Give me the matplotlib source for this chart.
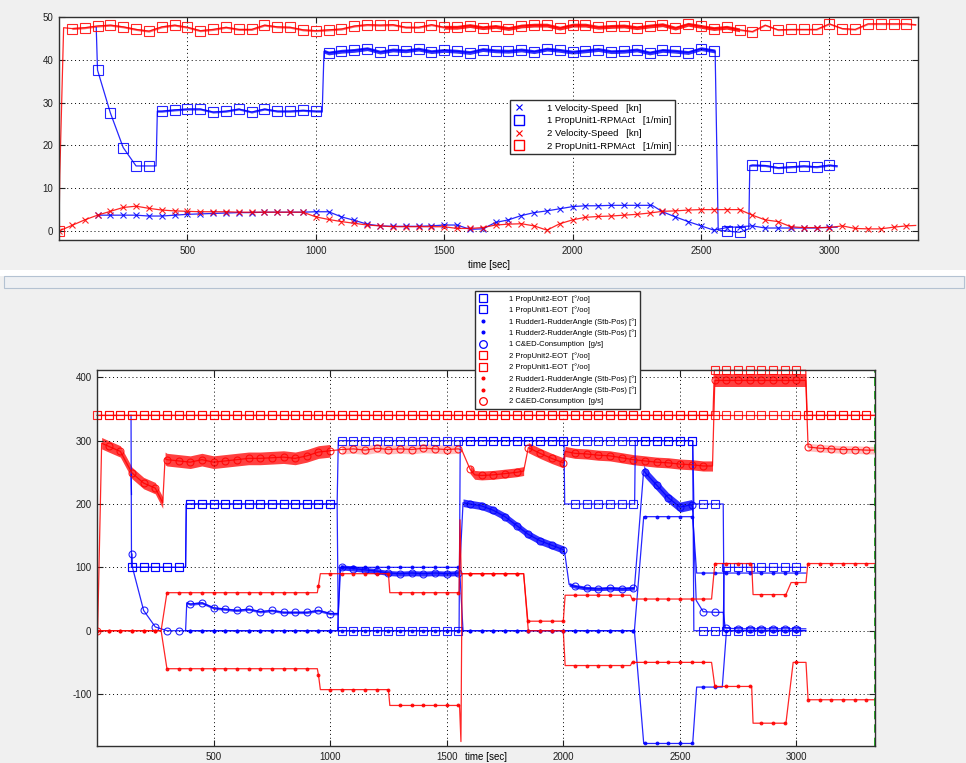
import numpy as np
import matplotlib.pyplot as plt
from matplotlib.lines import Line2D
from matplotlib.patches import Rectangle

plt.rcParams['font.family'] = ['Liberation Sans', 'DejaVu Sans']
plt.rcParams['axes.unicode_minus'] = False

nan = np.nan
BLUE, RED = '#0000ff', '#ff0000'

# sample grid of the logger: one marker every 50 s, 0..3300 (67 samples)
T = np.arange(0, 3350, 50)

# ---------------- top plot: speed / rpm ----------------
spd1 = ([nan] * 3
        + [3.7, 3.7, 3.7, 3.7, 3.5, 3.5, 3.7, 3.9, 4.0, 4.1, 4.2, 4.3, 4.3, 4.4, 4.4, 4.4, 4.4, 4.5]
        + [4.5, 3.3, 2.5, 1.6, 1.2, 1.1, 1.1, 1.1, 1.2, 1.4]
        + [1.4, 0.4, 0.5, 2.0, 2.6, 3.6, 4.3, 4.7, 5.2, 5.7]
        + [5.9, 5.9, 6.0, 6.0, 6.0, 6.0, 4.5, 3.3, 2.2, 1.2]
        + [0.2, 0.8, 1.0, 1.2, 0.7, 0.7, 0.7, 0.7, 0.7, 0.9]
        + [nan] * 6)
spd1_c = [(2310, 6.0), (3030, 0.9)]

rpm1 = ([nan] * 3
        + [37.6, 27.6, 19.5, 15.2, 15.2]
        + [28.0, 28.3, 28.5, 28.5, 27.8, 28.0, 28.5, 27.8, 28.5, 28.0, 28.0, 28.2, 28.0]
        + [41.6, 42.0, 42.2, 42.6, 41.8, 42.3, 42.1, 42.5, 41.9, 42.2, 42.0, 41.7, 42.4, 42.1, 42.0, 42.3,
           41.9, 42.5, 42.2, 41.8, 42.1, 42.4, 41.9, 42.0, 42.3, 41.6, 42.2, 42.0, 41.7, 42.6, 42.1]
        + [0.0, -0.3]
        + [15.4, 15.3, 14.8, 15.0, 15.2, 15.0, 15.4]
        + [nan] * 6)
rpm1_c = [(145, 47.5), (378, 15.2), (383, 28.0), (1025, 28.0), (1032, 42.0),
          (2555, 42.0), (2567, 0.2), (2686, 0.5), (2690, 15.3), (3030, 15.2)]
rpm1_noise = [(383, 1025, 0.25, 0.7), (1032, 2555, 0.45, 0.8), (2690, 3030, 0.25, 0.7)]

spd2 = ([0.0, 1.3, 2.6, 3.7, 4.6, 5.5, 5.8, 5.3, 4.9, 4.7]
        + [4.6, 4.5, 4.5, 4.5, 4.4, 4.4, 4.4, 4.4, 4.4, 4.4]
        + [3.3, 2.7, 2.2, 1.8, 1.4, 1.2, 1.0, 1.0, 1.0, 1.0]
        + [1.0, 0.6, 0.6, 0.8, 1.4, 1.6, 1.7, 1.2, 0.2, 1.7]
        + [2.6, 3.2, 3.4, 3.5, 3.7, 3.9, 4.2, 4.6, 4.7, 4.9]
        + [5.0, 5.0, 5.0, 5.0, 3.7, 2.6, 2.2, 1.0, 0.8, 0.8]
        + [0.8, 1.2, 0.6, 0.5, 0.5, 0.9, 1.2])
spd2_c = [(3336, 1.3)]

rpm2 = ([0.0]
        + [47.3, 47.5, 47.9, 48.1, 47.7, 47.1, 46.7, 47.7, 48.1, 47.6, 46.8, 47.1, 47.6, 47.1, 47.1,
           48.1, 47.7, 47.6, 47.0, 46.8, 47.0]
        + [47.2, 47.9, 48.2, 48.1, 48.2, 47.6, 47.6, 48.2, 47.6, 47.6]
        + [48.0, 47.5, 47.8, 47.3, 47.9, 48.1, 48.1, 47.4, 48.1, 48.1]
        + [47.6, 47.8, 47.9, 47.5, 47.9, 48.2, 47.4, 48.3, 47.8, 47.3]
        + [47.6, 47.0, 46.6, 48.1, 47.0, 47.1, 47.1, 47.1, 48.4, 47.3]
        + [47.1, 48.4, 48.4, 48.4, 48.4])
rpm2_c = [(3, 13.0), (18, 47.5), (3336, 48.2)]
rpm2_noise = [(20, 1500, 0.25, 0.6), (1500, 2650, 0.45, 0.85), (2650, 3336, 0.2, 0.5)]

top_labels = ['1 Velocity-Speed   [kn]', '1 PropUnit1-RPMAct   [1/min]',
              '2 Velocity-Speed   [kn]', '2 PropUnit1-RPMAct   [1/min]']

# ---------------- bottom plot: EOT / rudder / consumption ----------------
eot2_1 = [nan] * 3 + [100] * 5 + [200] * 13 + [300] * 31 + [0] * 2 + [100] * 7 + [nan] * 6
eot2_1_c = [(146, 340), (148, 100), (380, 100), (383, 200), (1030, 200), (1035, 300),
            (2555, 300), (2560, 0), (2686, 0), (2690, 100), (3040, 100)]

eot1_1 = ([nan] * 3 + [100] * 5 + [200] * 13 + [0] * 11 + [300] * 9 + [200] * 6
          + [300] * 5 + [200] * 2 + [0] * 7 + [nan] * 6)
eot1_1_c = [(146, 100), (380, 100), (383, 200), (1030, 200), (1035, 0), (1553, 0), (1558, 300),
            (2003, 300), (2006, 200), (2306, 200), (2309, 300), (2555, 300), (2560, 200),
            (2686, 200), (2690, 0), (3040, 0)]

rud1_1 = [nan] * 8 + [0] * 13 + [100] * 11 + [0] * 15 + [180] * 5 + [91] * 9 + [nan] * 6
rud1_1_c = [(146, 246), (148, 215), (149, nan), (380, 0), (1032, 0), (1042, 100), (1555, 100),
            (1570, 0), (2305, 0), (2345, 180), (2555, 180), (2572, 91), (3040, 91)]

rud2_1 = [nan] * 8 + [0] * 39 + [-178] * 5 + [-89] * 2 + [0] * 7 + [nan] * 6
rud2_1_c = [(380, 0), (2305, 0), (2345, -178), (2555, -178), (2572, -89), (2682, -89), (3040, 0)]

fuel_1 = ([nan] * 3
          + [121, 32, 6, 0, 0]
          + [42, 44, 36, 34, 32, 34, 30, 32, 29, 29, 29, 32, 27]
          + [100, 98, 96, 94, 91, 90, 91, 90, 91, 90, 91]
          + [200, 197, 190, 180, 166, 152, 142, 135, 128]
          + [70, 67, 66, 67, 66, 67]
          + [250, 230, 210, 195, 199]
          + [30, 29]
          + [4, 3, 3, 3, 3, 3, 3]
          + [nan] * 6)
fuel_1_c = [(152, 100), (380, 0), (385, 44), (1035, 27), (1045, 100), (1555, 91), (1570, 202),
            (2005, 126), (2025, 73), (2305, 67), (2345, 254), (2555, 195), (2570, 48),
            (2686, 29), (2695, 4), (3040, 3)]
fuel_1_noise = [(385, 1035, 2, 0.7), (1045, 1555, 4, 0.8), (1570, 2005, 6, 0.8),
                (2025, 2305, 3, 0.8), (2345, 2555, 8, 0.8)]

eot2_2 = [340] * 67
eot2_2_c = [(3336, 340)]
eot1_2 = [340] * 53 + [411] * 8 + [340] * 6
eot1_2_c = [(2642, 340), (2648, 411), (3040, 411), (3046, 340), (3336, 340)]

rud1_2 = ([0] * 6 + [60] * 13 + [71] + [90] * 6 + [60] * 6 + [90] * 5 + [15] * 3 + [15]
          + [56] * 5 + [50] * 7 + [106] + [106] * 3 + [57] * 3 + [76] + [106] * 6)
rud1_2_c = [(275, 0), (945, 60), (958, 90), (1256, 60), (1553, 60), (1557, 175), (1562, 90),
            (1830, 90), (1848, 15), (2008, 56), (2288, 56), (2295, 50), (2636, 50), (2655, 106),
            (2808, 106), (2814, 57), (2955, 57), (2977, 76), (3041, 76), (3049, 106), (3336, 106)]

rud2_2 = ([0] * 6 + [-60] * 13 + [-70] + [-93] * 6 + [-118] * 6 + [90] * 5 + [0] * 3 + [0]
          + [-55] * 5 + [-50] * 7 + [-88] + [-88] * 3 + [-146] * 3 + [-50] + [-109] * 6)
rud2_2_c = [(275, 0), (945, -60), (958, -93), (1256, -118), (1555, -118), (1561, -175), (1566, 90),
            (1830, 90), (1995, 0), (2008, -55), (2288, -55), (2295, -50), (2636, -50), (2655, -88),
            (2808, -88), (2814, -146), (2955, -146), (2986, -50), (3041, -50), (3051, -109), (3336, -109)]

fuel_2 = ([0, 291, 283, 249, 233, 225]
          + [270, 268, 266, 270, 266, 268, 270, 272, 272, 273, 274, 272, 276, 282, 284]
          + [286, 287, 285, 288, 286, 287, 286, 288, 287, 286, 287]
          + [255, 245, 246, 248, 250]
          + [289, 280, 272, 265]
          + [280, 279, 277, 276, 273, 270, 268, 266, 265, 263, 262, 260]
          + [395] * 8
          + [290, 288, 287, 286, 286, 285])
fuel_2_c = [(3, 5), (20, 296), (282, 202), (292, 272), (1565, 285), (1620, 246), (1830, 252),
            (2008, 283), (2640, 260), (3040, 395), (3336, 285)]
# (start, end, half width, opacity) of the sensor noise band
fuel_2_noise = [(20, 282, 9, 0.75), (292, 1030, 10, 0.75), (1030, 1560, 7, 0.25), (1570, 1830, 7, 0.75),
                (1850, 2640, 8, 0.75), (2650, 3040, 10, 0.75), (3050, 3336, 6, 0.25)]

cursor_t = 3335

bot_labels = ['1 PropUnit2-EOT  [°/oo]', '1 PropUnit1-EOT  [°/oo]',
              '1 Rudder1-RudderAngle (Stb-Pos) [°]', '1 Rudder2-RudderAngle (Stb-Pos) [°]',
              '1 C&ED-Consumption  [g/s]',
              '2 PropUnit2-EOT  [°/oo]', '2 PropUnit1-EOT  [°/oo]',
              '2 Rudder1-RudderAngle (Stb-Pos) [°]', '2 Rudder2-RudderAngle (Stb-Pos) [°]',
              '2 C&ED-Consumption  [g/s]']


def merge(grid, corners):
    pts = [(t, v, True) for t, v in zip(T, grid) if not np.isnan(v)]
    pts += [(t, v, False) for t, v in corners]
    pts.sort(key=lambda p: p[0])
    return (np.array([p[0] for p in pts], float), np.array([p[1] for p in pts], float),
            [p[2] for p in pts])


def draw(ax, grid, corners, color, marker, ms, noise=(), alpha=0.85, **kw):
    t, v, mk = merge(grid, corners)
    for t0, t1, hw, a in noise:
        m = (t >= t0) & (t <= t1)
        ax.fill_between(t[m], v[m] - hw, v[m] + hw, color=color, alpha=a, lw=0)
    filled = marker == '.'
    ax.plot(t, v, color=color, lw=0.9, alpha=alpha, marker=marker, ms=ms, markevery=mk,
            mfc=color if filled else 'none', mec=color, mew=0.8, **kw)


def style(ax, xlim, ylim, yticks):
    ax.set_xlim(*xlim)
    ax.set_ylim(*ylim)
    ax.set_xticks([500, 1000, 1500, 2000, 2500, 3000])
    ax.set_yticks(yticks)
    ax.grid(True, color='black', ls=(0, (1, 3)), lw=0.7)
    ax.tick_params(direction='in', top=True, right=True, length=4, width=0.8,
                   labelsize=7, pad=4, colors='#202020')
    for s in ax.spines.values():
        s.set_color('#303030')
        s.set_linewidth(1.0)


fig = plt.figure(figsize=(9.66, 7.63), dpi=100)
fig.patch.set_facecolor('#f0f0f0')

# separator strip between the two figure windows
fig.patches.append(Rectangle((0, 1 - 276 / 763), 1, 6 / 763, transform=fig.transFigure,
                             facecolor='white', edgecolor='none'))
fig.patches.append(Rectangle((0.004, 1 - 288 / 763), 0.994, 12 / 763, transform=fig.transFigure,
                             facecolor='#eef0f3', edgecolor='#b4c2d2', lw=0.8))

# ---- top
ax1 = fig.add_axes([59 / 966, 1 - 240 / 763, 859 / 966, 223 / 763])
draw(ax1, spd1, spd1_c, BLUE, 'x', 4)
draw(ax1, rpm1, rpm1_c, BLUE, 's', 7, noise=rpm1_noise)
draw(ax1, spd2, spd2_c, RED, 'x', 4)
draw(ax1, rpm2, rpm2_c, RED, 's', 7, noise=rpm2_noise)
style(ax1, (0, 3345), (-2.1, 50), [0, 10, 20, 30, 40, 50])
ax1.set_xlabel('time [sec]', fontsize=7, labelpad=3)

h1 = [Line2D([], [], ls='none', marker='x', color=BLUE, ms=4, mew=0.8),
      Line2D([], [], ls='none', marker='s', mfc='none', mec=BLUE, ms=7, mew=1.0),
      Line2D([], [], ls='none', marker='x', color=RED, ms=4, mew=0.8),
      Line2D([], [], ls='none', marker='s', mfc='none', mec=RED, ms=7, mew=1.0)]
ax1.legend(h1, top_labels, loc='upper left', bbox_to_anchor=(510 / 966, 1 - 100 / 763),
           bbox_transform=fig.transFigure, fontsize=6.8, frameon=True, fancybox=False,
           edgecolor='#303030', framealpha=1, handlelength=1.2, handletextpad=2.3,
           labelspacing=0.38, borderpad=0.4, borderaxespad=0)

# ---- bottom
ax2 = fig.add_axes([97 / 966, 1 - 746 / 763, 778 / 966, 376 / 763])
draw(ax2, eot2_1, eot2_1_c, BLUE, 's', 5.5)
draw(ax2, eot1_1, eot1_1_c, BLUE, 's', 5.5)
draw(ax2, rud1_1, rud1_1_c, BLUE, '.', 4)
draw(ax2, rud2_1, rud2_1_c, BLUE, '.', 4)
draw(ax2, fuel_1, fuel_1_c, BLUE, 'o', 5, noise=fuel_1_noise)
draw(ax2, eot2_2, eot2_2_c, RED, 's', 5.5)
draw(ax2, eot1_2, eot1_2_c, RED, 's', 5.5, clip_on=False)
draw(ax2, rud1_2, rud1_2_c, RED, '.', 4)
draw(ax2, rud2_2, rud2_2_c, RED, '.', 4)
draw(ax2, fuel_2, fuel_2_c, RED, 'o', 5, noise=fuel_2_noise)
ax2.axvline(cursor_t, color='#00b000', ls=(0, (5, 3)), lw=1.2, clip_on=False)
style(ax2, (0, 3337), (-182, 411.5), [-100, 0, 100, 200, 300, 400])
ax2.set_xlabel('time [sec]', fontsize=7)
ax2.xaxis.set_label_coords(0.5, -0.017)

mk = ['s', 's', '.', '.', 'o', 's', 's', '.', '.', 'o']
cols = [BLUE] * 5 + [RED] * 5
h2 = [Line2D([], [], ls='none', marker=m, color=c, mfc=c if m == '.' else 'none', mec=c,
             ms=4 if m == '.' else 5.5, mew=0.9) for m, c in zip(mk, cols)]
ax2.legend(h2, bot_labels, loc='upper left', bbox_to_anchor=(475 / 966, 1 - 291 / 763),
           bbox_transform=fig.transFigure, fontsize=5.5, frameon=True, fancybox=False,
           edgecolor='#303030', framealpha=1, handlelength=1.2, handletextpad=2.7,
           labelspacing=0.5, borderpad=0.5, borderaxespad=0)

plt.savefig('out.png', dpi=100, facecolor=fig.get_facecolor())
